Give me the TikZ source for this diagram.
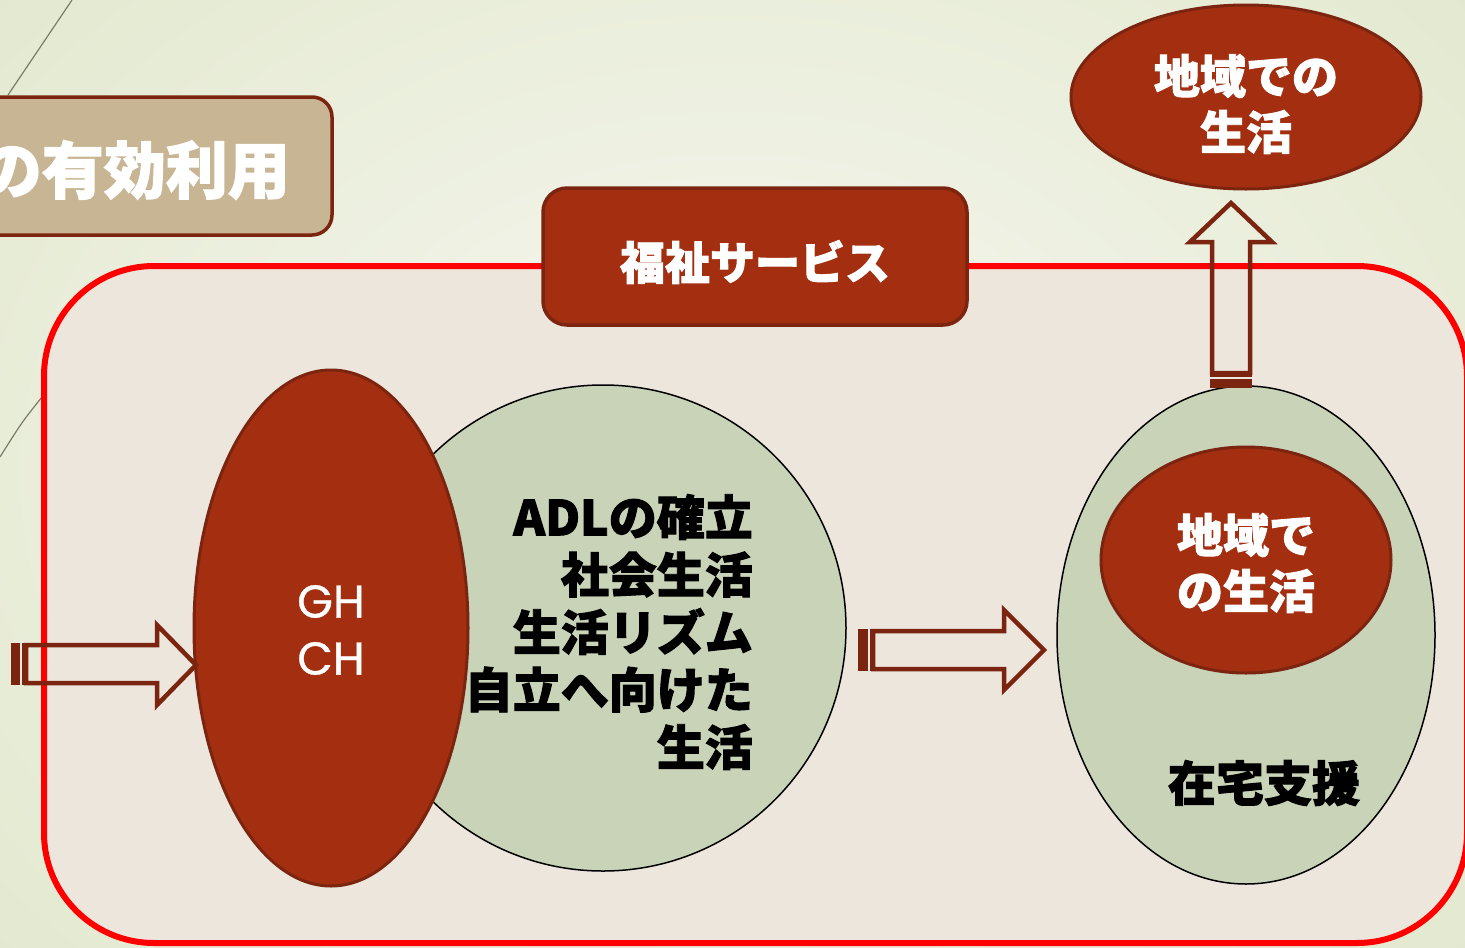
\documentclass[tikz,border=0pt]{standalone}
\usepackage{fontspec}
\usetikzlibrary{shapes.geometric}
\newfontfamily\jp{Noto Sans CJK JP}[BoldFeatures={FakeBold=2}]
\newfontfamily\ghfont{Poppins}[FakeBold=0.8]
\definecolor{bgin}{HTML}{F7F8F1}
\definecolor{bgout}{HTML}{E2E8CE}
\definecolor{framefill}{HTML}{EDE6DC}
\definecolor{framered}{HTML}{FF0000}
\definecolor{brickred}{HTML}{A32E10}
\definecolor{darkbrown}{HTML}{7B2410}
\definecolor{sage}{HTML}{C8D3B8}
\definecolor{tan}{HTML}{C8B593}
\definecolor{greyline}{HTML}{7D7B6B}
\tikzset{
  redell/.style={ellipse, fill=brickred, draw=darkbrown, line width=3pt, inner sep=0pt},
  greenell/.style={ellipse, fill=sage, draw=black, line width=1.5pt, inner sep=0pt},
  jpwhite/.style={text=white, font=\jp\bfseries\fontsize{46}{56}\selectfont, align=center, inner sep=0pt},
  jpblack/.style={text=black, font=\jp\bfseries\fontsize{48}{57.5}\selectfont, inner sep=0pt},
  blockarrow/.style={draw=darkbrown, line width=4.5pt, line join=miter},
  stripe/.style={fill=darkbrown, draw=none},
  deco/.style={draw=greyline, line width=1.2pt}
}
\begin{document}
\begin{tikzpicture}[x=1pt,y=-1pt]
\useasboundingbox (0,0) rectangle (1465,948);
\clip (0,0) rectangle (1465,948);
% background
\shade[inner color=bgin, outer color=bgout] (-300,-300) rectangle (1765,1248);
% decorative lines
\draw[deco] (72,0) -- (8,95);
\draw[deco] (42,397) .. controls (22,422) .. (0,457);
% tan title box
\draw[fill=tan, draw=darkbrown, line width=3.5pt, rounded corners=20pt] (-40,97) rectangle (332,235);
\node[text=white, font=\jp\bfseries\fontsize{62}{70}\selectfont, inner sep=0pt, anchor=east] (util) at (290,170) {の有効利用};
% red frame
\draw[fill=framefill, draw=framered, line width=6pt, rounded corners=110pt] (44,266) rectangle (1467,943);
% left group
\node[greenell, minimum width=486, minimum height=486] (adl) at (603,628) {};
\node[redell, minimum width=274, minimum height=516] (gh) at (331,628) {};
\node[text=white, font=\ghfont\fontsize{46}{57}\selectfont, align=center, inner sep=0pt] (ghtext) at (331,630) {GH\\CH};
\node[jpblack, align=right, anchor=east] (adltext) at (753,632) {ADLの確立\\社会生活\\生活リズム\\自立へ向けた\\生活};
% left arrow
\draw[blockarrow] (26,645) -- (157,645) -- (157,625) -- (196,665) -- (157,705) -- (157,683) -- (26,683) -- cycle;
\fill[stripe] (11,643) rectangle (20,685);
\fill[stripe] (22,643) rectangle (26,685);
% middle arrow
\draw[blockarrow] (873,631) -- (1004,631) -- (1004,610) -- (1044,650) -- (1004,690) -- (1004,669) -- (873,669) -- cycle;
\fill[stripe] (858,629) rectangle (868,671);
\fill[stripe] (870,629) rectangle (874,671);
% service box
\draw[fill=brickred, draw=darkbrown, line width=3.5pt, rounded corners=24pt] (543,188) rectangle (967,325);
\node[jpwhite, font=\jp\bfseries\fontsize{45}{56}\selectfont] (svc) at (755,262) {福祉サービス};
% right group
\node[greenell, minimum width=378, minimum height=498] (home) at (1246,635) {};
\node[redell, minimum width=290, minimum height=226] (local) at (1246,560) {};
\node[jpwhite] (localtext) at (1246,563) {地域で\\の生活};
\node[jpblack] (zaitaku) at (1264,783) {在宅支援};
% top ellipse
\node[redell, minimum width=350, minimum height=184] (goal) at (1246,97) {};
\node[jpwhite] (goaltext) at (1246,104) {地域での\\生活};
% up arrow
\draw[blockarrow] (1212,373) -- (1212,242) -- (1190,242) -- (1231,203) -- (1272,242) -- (1250,242) -- (1250,373) -- cycle;
\fill[stripe] (1210,372) rectangle (1252,377);
\fill[stripe] (1210,379) rectangle (1252,388);
\end{tikzpicture}
\end{document}
